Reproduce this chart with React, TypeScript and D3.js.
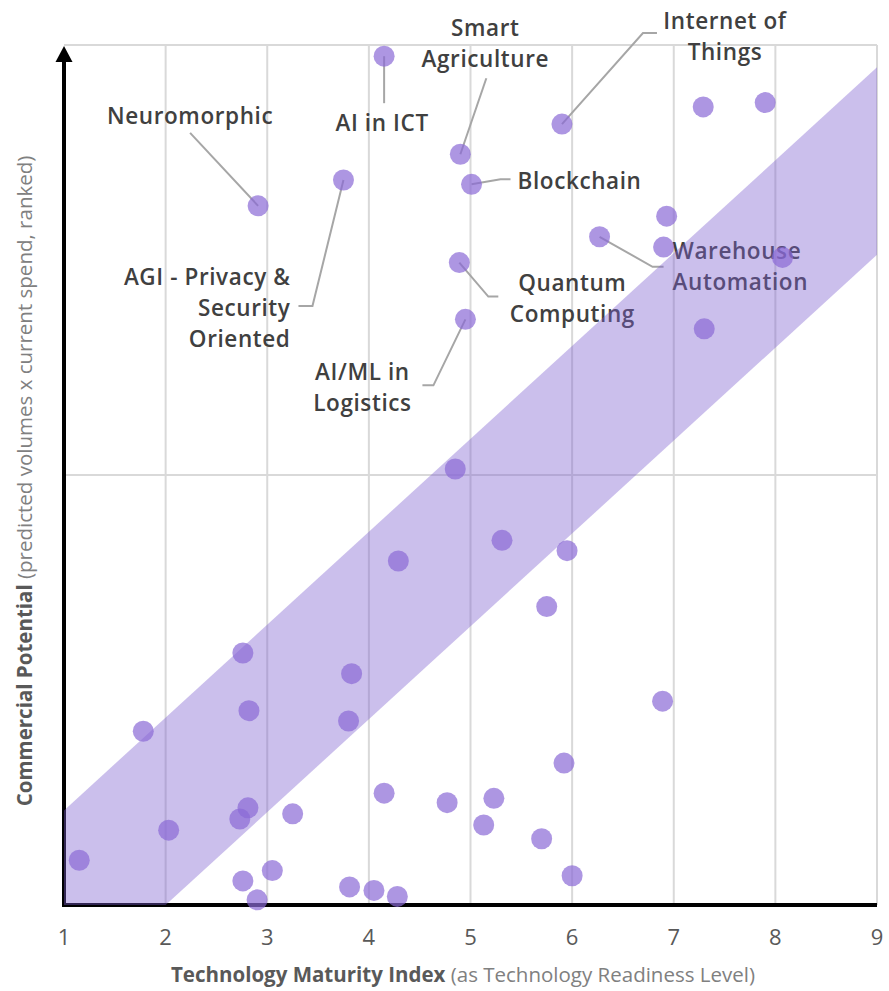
import React from 'react'
import * as d3 from 'd3'

// technology maturity (TRL) and commercial potential rank, one entry per technology
const maturity = [
  4.15, 4.90, 5.90, 7.29, 7.90, 2.91, 3.75, 5.01, 6.93, 6.27, 6.90, 8.07, 4.89, 4.95, 7.30,
  4.85, 5.31, 5.95, 4.29, 5.75, 2.76, 3.83, 6.89, 2.82, 3.80, 1.78, 5.92, 4.15, 4.77, 5.23,
  2.81, 2.73, 3.25, 2.03, 5.13, 5.70, 1.15, 3.05, 2.76, 3.81, 4.05, 4.28, 2.90, 6.00,
]
const potential = [
  9.87, 8.73, 9.08, 9.28, 9.33, 8.13, 8.43, 8.38, 8.01, 7.77, 7.65, 7.53, 7.47, 6.81, 6.70,
  5.07, 4.24, 4.12, 4.00, 3.47, 2.93, 2.69, 2.37, 2.26, 2.14, 2.02, 1.65, 1.30, 1.19, 1.24,
  1.13, 1.00, 1.06, 0.87, 0.93, 0.77, 0.52, 0.40, 0.28, 0.21, 0.17, 0.10, 0.06, 0.34,
]

const xTicks = [1, 2, 3, 4, 5, 6, 7, 8, 9]
const yGrid = [5, 10]

// diagonal "expected" band: upper and lower edges
const bandUpper: [number, number][] = [[1, 1.1], [9, 9.74]]
const bandLower: [number, number][] = [[2, 0], [9, 7.56]]

const labelledPoints = [0, 1, 2, 5, 6, 7, 9, 12, 13]
const labelTexts = [
  ['AI in ICT'],
  ['Smart', 'Agriculture'],
  ['Internet of', 'Things'],
  ['Neuromorphic'],
  ['AGI - Privacy &', 'Security', 'Oriented'],
  ['Blockchain'],
  ['Warehouse', 'Automation'],
  ['Quantum', 'Computing'],
  ['AI/ML in', 'Logistics'],
]

// label layout, offsets in px from the point
const labelLayout: { leader: [number, number][]; dx: number; dy: number; anchor: string }[] = [
  { leader: [[0, 47]], dx: -2, dy: 67, anchor: 'middle' },
  { leader: [[26, -76]], dx: 25, dy: -126, anchor: 'middle' },
  { leader: [[81, -91], [95, -91]], dx: 163, dy: -103, anchor: 'middle' },
  { leader: [[-68, -73]], dx: -68, dy: -90, anchor: 'middle' },
  { leader: [[-31, 126], [-45, 126]], dx: -53, dy: 97, anchor: 'end' },
  { leader: [[29, -5], [39, -5]], dx: 46, dy: -3, anchor: 'start' },
  { leader: [[53, 30], [64, 30]], dx: 73, dy: 14, anchor: 'start' },
  { leader: [[29, 34], [39, 34]], dx: 113, dy: 21, anchor: 'middle' },
  { leader: [[-32, 66], [-43, 66]], dx: -103, dy: 53, anchor: 'middle' },
]

const W = 889
const H = 991
const left = 64, right = 877, top = 45, bottom = 905
const font = '"Open Sans", Lato, sans-serif'

export default function App() {
  const x = d3.scaleLinear().domain([1, 9]).range([left, right])
  const y = d3.scaleLinear().domain([0, 10]).range([bottom, top])

  const bandPts: [number, number][] = [[1, 0], bandUpper[0], bandUpper[1], bandLower[1], bandLower[0]]
  const bandPath = d3.line<[number, number]>().x(d => x(d[0])).y(d => y(d[1]))(bandPts) + 'Z'

  const lineHeight = 31

  return (
    <svg width={W} height={H} style={{ position: 'absolute', left: 0, top: 0, background: '#fff' }} fontFamily={font}>
      {/* grid */}
      <g stroke="#d9d9d9" strokeWidth={2}>
        {xTicks.slice(1).map(t => (
          <line key={t} x1={x(t)} x2={x(t)} y1={y(10)} y2={y(0)} />
        ))}
        {yGrid.map(t => (
          <line key={t} x1={x(1)} x2={x(9)} y1={y(t)} y2={y(t)} />
        ))}
      </g>

      {/* axes */}
      <line x1={x(1) - 2} x2={x(9)} y1={y(0)} y2={y(0)} stroke="#000" strokeWidth={4} />
      <line x1={x(1)} x2={x(1)} y1={y(0) + 2} y2={top + 14} stroke="#000" strokeWidth={4} />
      <path d={`M${x(1)},${top + 1} L${x(1) + 8.5},${top + 17} L${x(1) - 8.5},${top + 17} Z`} fill="#000" />

      {/* labels + leaders */}
      {labelledPoints.map((pi, i) => {
        const cx = x(maturity[pi])
        const cy = y(potential[pi])
        const lay = labelLayout[i]
        const pts = [[cx, cy], ...lay.leader.map(([dx, dy]) => [cx + dx, cy + dy])]
        return (
          <g key={pi}>
            <polyline points={pts.map(p => p.join(',')).join(' ')} fill="none" stroke="#a6a6a6" strokeWidth={2} />
            <text x={cx + lay.dx} y={cy + lay.dy} textAnchor={lay.anchor} fill="#404040" fontSize={22.5} fontWeight={600} letterSpacing={0.6}>
              {labelTexts[i].map((ln, k) => (
                <tspan key={k} x={cx + lay.dx} y={cy + lay.dy + k * lineHeight} dy="0.35em">{ln}</tspan>
              ))}
            </text>
          </g>
        )
      })}

      {/* band */}
      <path d={bandPath} fill="#7e5fcf" fillOpacity={0.4} />

      {/* points */}
      <g>
        {maturity.map((m, i) => (
          <circle key={i} cx={x(m)} cy={y(potential[i])} r={10.5} fill="#8a6ad6" fillOpacity={0.7} />
        ))}
      </g>

      {/* tick labels */}
      <g fill="#595959" fontSize={22} textAnchor="middle">
        {xTicks.map(t => (
          <text key={t} x={x(t)} y={937} dy="0.35em">{t}</text>
        ))}
      </g>

      {/* axis titles */}
      <text x={463} y={975} dy="0.35em" textAnchor="middle" fontSize={20.5}>
        <tspan fill="#595959" fontWeight={700}>Technology Maturity Index </tspan>
        <tspan fill="#808080">(as Technology Readiness Level)</tspan>
      </text>
      <text transform={`translate(25,481) rotate(-90)`} dy="0.35em" textAnchor="middle" fontSize={20.5}>
        <tspan fill="#595959" fontWeight={700}>Commercial Potential </tspan>
        <tspan fill="#808080">(predicted volumes x current spend, ranked)</tspan>
      </text>
    </svg>
  )
}
